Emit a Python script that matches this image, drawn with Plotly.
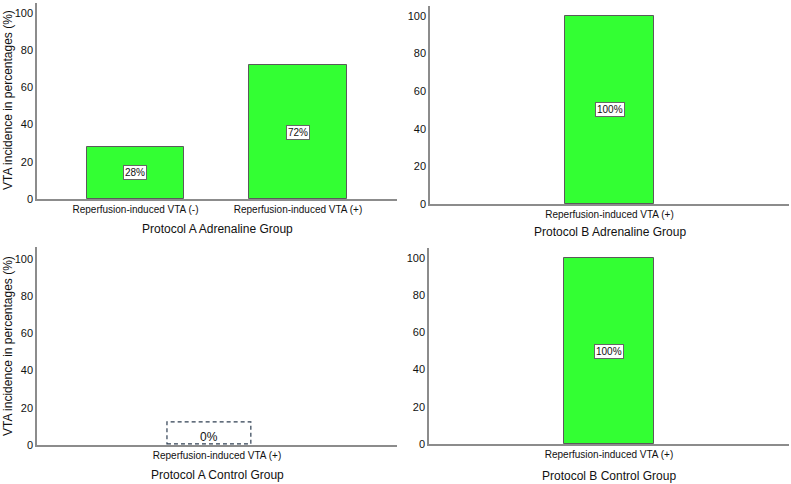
import plotly.graph_objects as go

# ---- data ----
cats_a_adr = ["Reperfusion-induced VTA (-)", "Reperfusion-induced VTA (+)"]
vals_a_adr = [28, 72]
cats_b_adr = ["Reperfusion-induced VTA (+)"]
vals_b_adr = [100]
cats_a_ctl = ["Reperfusion-induced VTA (+)"]
vals_a_ctl = [0]
cats_b_ctl = ["Reperfusion-induced VTA (+)"]
vals_b_ctl = [100]
group_titles = ["Protocol A Adrenaline Group", "Protocol B Adrenaline Group",
                "Protocol A Control Group", "Protocol B Control Group"]
y_title = "VTA incidence in percentages (%)"
y_ticks = [0, 20, 40, 60, 80, 100]

W, H = 791, 484
GREEN = "#33FF33"
EDGE = "#5a5a5a"
AXC = "#8c8c8c"
TXT = "#111111"
FONT = "Liberation Sans, Arial, sans-serif"

def px_x(a, b):
    return [a / W, b / W]

def px_y(top, bottom):
    return [1 - bottom / H, 1 - top / H]

panels = [
    dict(cats=cats_a_adr, vals=vals_a_adr, width=0.6, xr=[-0.606, 1.609],
         xd=px_x(37, 397), yd=px_y(3, 199), ymax=105.4),
    dict(cats=cats_b_adr, vals=vals_b_adr, width=0.25, xr=[-0.5, 0.5],
         xd=px_x(430, 789), yd=px_y(6, 204), ymax=105.3),
    dict(cats=cats_a_ctl, vals=vals_a_ctl, width=0.25, xr=[-0.5, 0.5],
         xd=px_x(37, 397), yd=px_y(247, 445), ymax=106.5),
    dict(cats=cats_b_ctl, vals=vals_b_ctl, width=0.25, xr=[-0.5, 0.5],
         xd=px_x(429, 789), yd=px_y(248, 444), ymax=105.4),
]
title_y_px = [229, 232, 475, 476]

fig = go.Figure()
annotations = []
shapes = []

for i, p in enumerate(panels):
    n = "" if i == 0 else str(i + 1)
    xa, ya = "x" + n, "y" + n
    fig.add_trace(go.Bar(
        x=p["cats"], y=p["vals"], width=p["width"],
        marker=dict(color=GREEN,
                    line=dict(color=EDGE, width=[1 if v > 0 else 0 for v in p["vals"]])),
        xaxis=xa, yaxis=ya, showlegend=False, hoverinfo="x+y",
    ))
    fig.layout["xaxis" + n] = dict(
        domain=p["xd"], range=p["xr"], anchor=ya, showline=True,
        linecolor=AXC, linewidth=1.5, showgrid=False, zeroline=False,
        ticks="", tickfont=dict(size=10, color=TXT, family=FONT),
        fixedrange=True,
    )
    fig.layout["yaxis" + n] = dict(
        domain=p["yd"], range=[0, p["ymax"]], anchor=xa, showline=True,
        linecolor=AXC, linewidth=1.5, showgrid=False, zeroline=False,
        tickvals=y_ticks, ticks="", tickfont=dict(size=11, color=TXT, family=FONT),
        fixedrange=True,
    )
    # value labels
    for c, v in zip(p["cats"], p["vals"]):
        if v > 0:
            annotations.append(dict(
                x=c, y=v / 2, xref=xa, yref=ya, text=f"{v}%", showarrow=False,
                font=dict(size=10, color="#111111", family=FONT),
                bgcolor="white", bordercolor="#666666", borderwidth=1, borderpad=1,
            ))
        else:
            annotations.append(dict(
                x=-0.022, y=4.5, xref=xa, yref=ya, text=f"{v}%", showarrow=False,
                font=dict(size=12, color=TXT, family=FONT),
            ))
            shapes.append(dict(
                type="rect", xref=xa, yref=ya, x0=-0.139, x1=0.094, y0=0.6, y1=12.4,
                line=dict(color="#2f3f52", width=1.2, dash="4px,3px"),
                fillcolor="rgba(0,0,0,0)",
            ))
    # group title
    annotations.append(dict(
        x=(p["xd"][0] + p["xd"][1]) / 2, y=1 - title_y_px[i] / H,
        xref="paper", yref="paper", text=group_titles[i], showarrow=False,
        font=dict(size=12, color=TXT, family=FONT),
        xanchor="center", yanchor="middle",
    ))

# y-axis titles (left panels)
for yc in [100, 346]:
    annotations.append(dict(
        x=8 / W, y=1 - yc / H, xref="paper", yref="paper", text=y_title,
        showarrow=False, textangle=-90,
        font=dict(size=12, color=TXT, family=FONT),
        xanchor="center", yanchor="middle",
    ))

fig.update_layout(
    template="none",
    width=W, height=H, margin=dict(l=0, r=0, t=0, b=0),
    paper_bgcolor="white", plot_bgcolor="white",
    annotations=annotations, shapes=shapes, bargap=0,
    font=dict(family=FONT, color=TXT),
)

fig.write_html("out.html", config={"displayModeBar": False})
